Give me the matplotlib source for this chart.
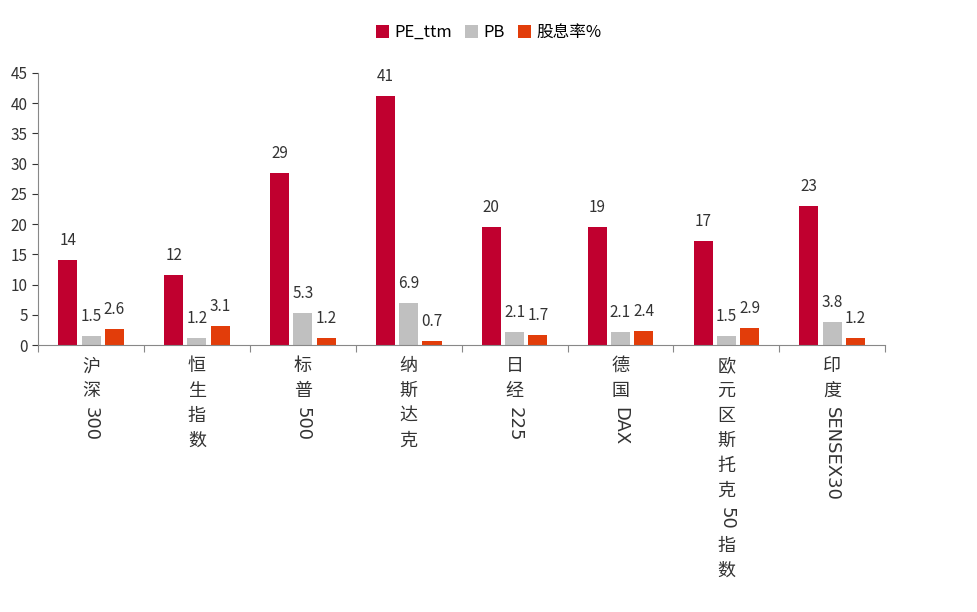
import matplotlib
matplotlib.use("Agg")
import matplotlib.pyplot as plt
import numpy as np

plt.rcParams['font.family'] = ['Noto Sans CJK SC', 'DejaVu Sans']

categories = ["沪深300", "恒生指数", "标普500", "纳斯达克", "日经225", "德国DAX", "欧元区斯托克50指数", "印度SENSEX30"]
pe = [14.0, 11.6, 28.5, 41.1, 19.5, 19.5, 17.2, 23.0]
pb = [1.5, 1.2, 5.3, 6.9, 2.1, 2.1, 1.5, 3.8]
dy = [2.6, 3.1, 1.2, 0.7, 1.7, 2.4, 2.9, 1.2]
pe_lbl = ["14", "12", "29", "41", "20", "19", "17", "23"]

fig = plt.figure(figsize=(9.77, 6.12), dpi=100)
ax = fig.add_axes([0.039, 0.436, 0.867, 0.445])
x = np.arange(len(categories))
w = 0.18
off = 0.22
c1, c2, c3 = "#C0002F", "#C0C0C0", "#E23D0A"
b1 = ax.bar(x - off, pe, w, color=c1, label="PE_ttm")
b2 = ax.bar(x, pb, w, color=c2, label="PB")
b3 = ax.bar(x + off, dy, w, color=c3, label="股息率%")
for bars, vals in ((b1, pe_lbl), (b2, [f"{v:.1f}" for v in pb]), (b3, [f"{v:.1f}" for v in dy])):
    for b, t in zip(bars, vals):
        ax.annotate(t, (b.get_x() + b.get_width() / 2, b.get_height()), xytext=(0, 8),
                    textcoords="offset points", ha="center", va="bottom", fontsize=11, color="#333333")

ax.set_xlim(-0.5, len(categories) - 0.5)
ax.set_ylim(0, 45)
ax.set_yticks(range(0, 46, 5))
ax.tick_params(axis='y', labelsize=11, length=4, colors="#333333")
ax.set_xticks(np.arange(-0.5, len(categories), 1))
ax.set_xticklabels([])
ax.tick_params(axis='x', length=5, color="#888888")
for s in ("top", "right"):
    ax.spines[s].set_visible(False)
ax.spines["left"].set_color("#888888")
ax.spines["bottom"].set_color("#888888")

trans = ax.get_xaxis_transform()
step = 25
for i, lab in enumerate(categories):
    # split into runs
    runs = []
    for ch in lab:
        is_cjk = ord(ch) > 0x2E80
        if runs and not is_cjk and not runs[-1][1]:
            runs[-1][0] += ch
        else:
            runs.append([ch, is_cjk])
    ypix = 12
    for txt, cjk in runs:
        if cjk:
            ax.annotate(txt, (i, 0), xycoords=trans, xytext=(0, -ypix), textcoords="offset pixels",
                        ha="center", va="top", fontsize=13, color="#333333")
            ypix += step
        else:
            t = ax.annotate(txt, (i, 0), xycoords=trans, xytext=(0, -ypix), textcoords="offset pixels",
                            ha="center", va="top", fontsize=13, color="#333333", rotation=-90,
                            family="DejaVu Sans")
            ypix += len(txt) * 13 + 4

fig.legend(loc="upper center", bbox_to_anchor=(0.5, 0.985), ncol=3, frameon=False, fontsize=12,
           handlelength=0.8, handleheight=0.8, columnspacing=0.8, handletextpad=0.3)
fig.savefig("out.png", dpi=100)
